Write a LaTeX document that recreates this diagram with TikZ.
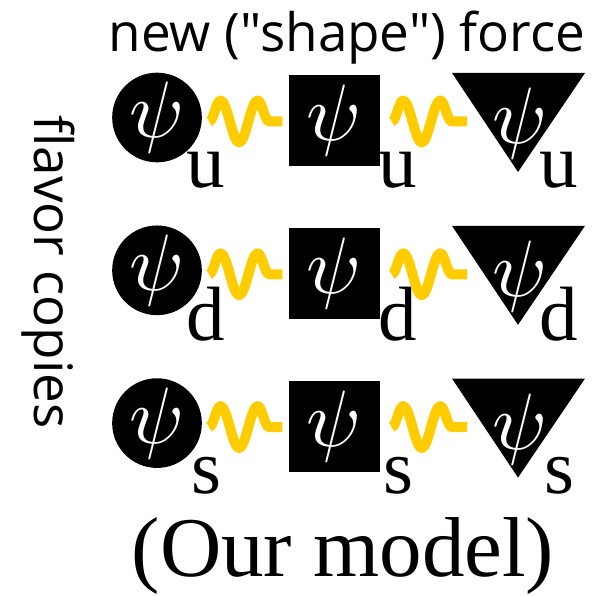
\documentclass[tikz,border=0pt]{standalone}
\usepackage{graphicx}
\usepackage{fontspec}
\newfontfamily\handfont{Open Sans}
\newfontfamily\serifont{Liberation Serif}
\usetikzlibrary{calc,decorations.pathmorphing}
\definecolor{gluongold}{RGB}{255,204,0}
\newcommand{\bigpsi}{\scalebox{8}{$\psi$}}
\tikzset{
  psiball/.style={circle, fill=black, text=white, minimum size=89pt, inner sep=0pt},
  psibox/.style={rectangle, fill=black, text=white, minimum size=91pt, inner sep=0pt},
  psitext/.style={text=white, inner sep=0pt},
  flav/.style={anchor=base, inner sep=0pt, font=\serifont\fontsize{77}{77}\selectfont},
  handtext/.style={inner sep=0pt, font=\handfont\fontsize{53}{53}\selectfont},
  gluon/.style={gluongold, line width=10pt, line join=round, decorate,
    decoration={snake, segment length=37pt, amplitude=21pt}}
}
\begin{document}
\begin{tikzpicture}[x=1pt,y=-1pt]
  \useasboundingbox (0,0) rectangle (594,596);
  \node[handtext,anchor=base] (title) at (347,52) {new ("shape") force};
  \node[handtext,rotate=-90] (copies) at (48,272) {flavor copies};
  \foreach \fl [count=\r] in {u,d,s}{
    \pgfmathsetmacro{\Y}{117.5+152.8*(\r-1)}
    % three shapes of one flavor
    \node[psiball] (c\r) at (157,\Y) {\bigpsi};
    \node[psibox] (q\r) at (334,\Y+3) {\bigpsi};
    \fill (452,\Y-44.5) coordinate (tl\r) -- (585,\Y-44.5) -- (518,\Y+54.5) -- cycle;
    \node[psitext] (t\r) at (520,\Y+6) {\bigpsi};
    \node[flav] (f\r a) at (206,\Y+70) {\fl};
    \node[flav] (f\r b) at (398,\Y+70) {\fl};
    \node[flav] (f\r c) at (559,\Y+70) {\fl};
    % force lines
    \coordinate (e\r) at (467,\Y+4);
    \draw[gluon] ([shift={(7,4)}]c\r.east) -- ([shift={(-6,1)}]q\r.west);
    \draw[gluon] ([shift={(12,1)}]q\r.east) -- (e\r);
  }
  \node[anchor=base,inner sep=0pt,font=\serifont\fontsize{85}{85}\selectfont] (model) at (343,576) {(Our model)};
\end{tikzpicture}
\end{document}
